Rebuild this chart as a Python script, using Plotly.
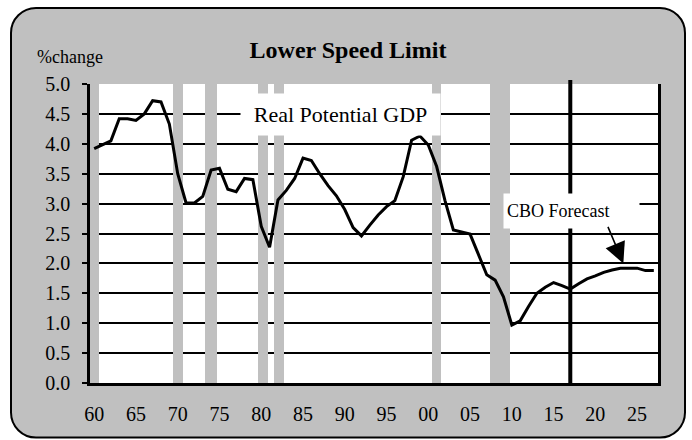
import plotly.graph_objects as go

# ---------------- data ----------------
years = list(range(1960, 2028))
potential_gdp = [
    3.92, 3.98, 4.05, 4.42, 4.42, 4.39, 4.50, 4.72, 4.70, 4.33,
    3.50, 3.01, 3.01, 3.12, 3.56, 3.59, 3.24, 3.20, 3.42, 3.40,
    2.62, 2.27, 3.06, 3.22, 3.42, 3.76, 3.72, 3.50, 3.30, 3.13,
    2.90, 2.60, 2.46, 2.64, 2.81, 2.95, 3.05, 3.45, 4.06, 4.13,
    3.98, 3.62, 3.05, 2.56, 2.53, 2.49, 2.15, 1.81, 1.72, 1.44,
    0.97, 1.04, 1.28, 1.50, 1.60, 1.68, 1.63, 1.57, 1.66, 1.74,
    1.79, 1.85, 1.89, 1.92, 1.92, 1.92, 1.88, 1.88,
]
rec_start = [1959.5, 1969.48, 1973.29, 1979.56, 1981.48, 2000.47, 2007.37]
rec_end = [1960.61, 1970.68, 1974.76, 1980.76, 1982.67, 2001.58, 2009.77]
rec_height = 5.0
forecast_start = 2017
tick_years = list(range(1960, 2030, 5))
tick_text = [f"{y % 100:02d}" for y in tick_years]
y_ticks = [i * 0.5 for i in range(11)]

# ---------------- layout geometry (pixels) ----------------
W, H = 692, 440
L, R, T, B = 90, 658, 84, 383


def px(x):
    return (x - L) / (R - L)


def py(y):
    return (B - y) / (B - T)


def rounded_rect(x0, y0, x1, y1, r):
    k = 0.5523 * r
    pts = [
        ("M", [(x0 + r, y0)]),
        ("L", [(x1 - r, y0)]),
        ("C", [(x1 - r + k, y0), (x1, y0 + r - k), (x1, y0 + r)]),
        ("L", [(x1, y1 - r)]),
        ("C", [(x1, y1 - r + k), (x1 - r + k, y1), (x1 - r, y1)]),
        ("L", [(x0 + r, y1)]),
        ("C", [(x0 + r - k, y1), (x0, y1 - r + k), (x0, y1 - r)]),
        ("L", [(x0, y0 + r)]),
        ("C", [(x0, y0 + r - k), (x0 + r - k, y0), (x0 + r, y0)]),
    ]
    s = ""
    for cmd, ps in pts:
        s += cmd + " ".join(f"{px(a):.5f},{py(b):.5f}" for a, b in ps) + " "
    return s + "Z"


FONT = "'Liberation Serif', 'Times New Roman', Tinos, 'DejaVu Serif', serif"

fig = go.Figure()

# recession bars
fig.add_trace(go.Bar(
    x=[(a + b) / 2 for a, b in zip(rec_start, rec_end)],
    y=[rec_height] * len(rec_start),
    width=[b - a for a, b in zip(rec_start, rec_end)],
    marker=dict(color="#c0c0c0", line=dict(width=0)),
    hoverinfo="skip",
    showlegend=False,
))

# potential GDP line
fig.add_trace(go.Scatter(
    x=years, y=potential_gdp, mode="lines",
    line=dict(color="black", width=3),
    showlegend=False, hoverinfo="skip",
))

shapes = [
    dict(type="path", xref="paper", yref="paper",
         path=rounded_rect(11, 8, 685, 437.5, 25),
         fillcolor="#c0c0c0", line=dict(color="black", width=2), layer="below"),
    dict(type="rect", xref="paper", yref="paper", x0=0, x1=1, y0=0, y1=1,
         fillcolor="white", line=dict(width=0), layer="below"),
    dict(type="line", xref="x", yref="paper", x0=forecast_start, x1=forecast_start,
         y0=0, y1=py(80), line=dict(color="black", width=4), layer="above"),
]

annotations = [
    dict(text="%change", xref="paper", yref="paper", x=px(35), y=py(57),
         xanchor="left", yanchor="middle", showarrow=False,
         font=dict(family=FONT, size=18, color="black")),
    dict(text="Real Potential GDP", xref="paper", yref="paper",
         x=px((241 + 440) / 2), y=py((94 + 135) / 2),
         xanchor="center", yanchor="middle", showarrow=False,
         width=199, height=41, borderpad=0, bgcolor="white",
         font=dict(family=FONT, size=22, color="black")),
    dict(text="CBO Forecast", xref="paper", yref="paper",
         x=px((504 + 639) / 2), y=py((197 + 225) / 2),
         xanchor="center", yanchor="middle", showarrow=False,
         width=129, height=28, borderpad=3, bgcolor="white", align="left",
         font=dict(family=FONT, size=18, color="black")),
    dict(text="", x=2023.35, y=2.0, xref="x", yref="y",
         ax=-16, ay=-38, showarrow=True, arrowhead=2, arrowsize=2.6,
         arrowwidth=1.6, arrowcolor="black"),
]

fig.update_layout(
    width=W, height=H,
    margin=dict(l=L, r=W - R, t=T, b=H - B, pad=0),
    paper_bgcolor="white", plot_bgcolor="white",
    title=dict(text="Lower Speed Limit", x=348 / W, y=1 - 50 / H,
               xanchor="center", yanchor="middle",
               font=dict(family=FONT, size=24, color="black", weight="bold")),
    shapes=shapes, annotations=annotations,
    bargap=0, showlegend=False,
    xaxis=dict(range=[1959.5, 2027.5], tickvals=tick_years, ticktext=tick_text,
               showgrid=False, zeroline=False, showline=True, linecolor="black",
               linewidth=3, ticks="", ticklabelstandoff=11,
               tickfont=dict(family=FONT, size=20, color="black")),
    yaxis=dict(range=[0, 5], tickvals=y_ticks, tickformat=".1f",
               showgrid=True, gridcolor="black", gridwidth=1.5, zeroline=False,
               showline=True, linecolor="black", linewidth=2.5, mirror=True,
               ticks="outside", ticklen=5, tickwidth=1.5, tickcolor="black",
               ticklabelstandoff=8,
               tickfont=dict(family=FONT, size=20, color="black")),
)

fig.write_html("out.html", config={"displayModeBar": False},
               post_script="document.body.style.margin='0';")
